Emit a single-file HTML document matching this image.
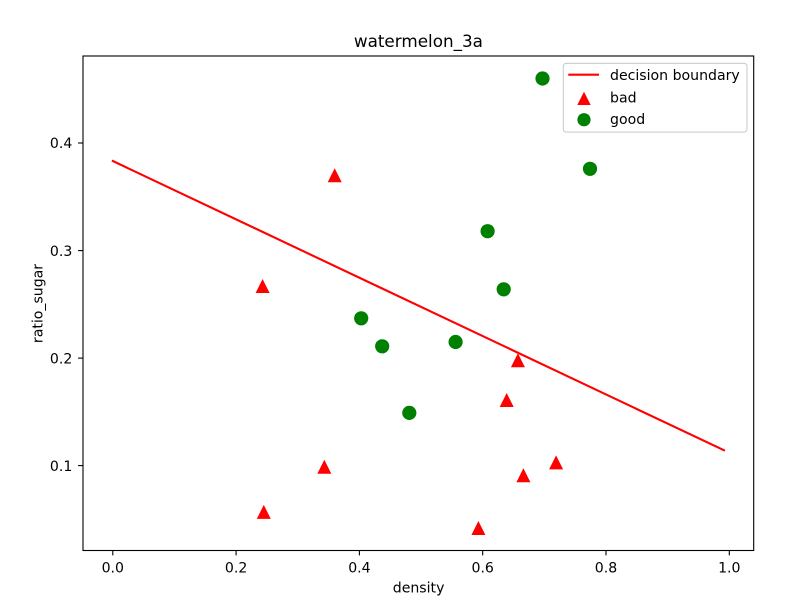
<!DOCTYPE html>
<html>
<head>
<meta charset="utf-8">
<style>
html,body{margin:0;padding:0;background:#fff;}
svg{display:block;}
text{font-family:"DejaVu Sans","Liberation Sans",sans-serif;fill:#000;}
</style>
</head>
<body>
<svg width="798" height="611" viewBox="0 0 798 611" xmlns="http://www.w3.org/2000/svg">
<rect x="0" y="0" width="798" height="611" fill="#fff"/>
<!-- title -->
<text x="418.4" y="47" font-size="16.8" text-anchor="middle">watermelon_3a</text>

<!-- decision boundary -->
<line x1="112.8" y1="161.0" x2="724" y2="450.3" stroke="#ff0000" stroke-width="2.08" stroke-linecap="square"/>

<!-- bad (triangles) -->
<g fill="#ff0000">
<path d="M523.4,468.3 L516.4,482.3 L530.4,482.3 Z"/>
<path d="M262.6,279.0 L255.6,293.0 L269.6,293.0 Z"/>
<path d="M263.8,504.9 L256.8,518.9 L270.8,518.9 Z"/>
<path d="M324.3,459.7 L317.3,473.7 L331.3,473.7 Z"/>
<path d="M506.7,393.0 L499.7,407.0 L513.7,407.0 Z"/>
<path d="M517.9,353.2 L510.9,367.2 L524.9,367.2 Z"/>
<path d="M334.7,168.3 L327.7,182.3 L341.7,182.3 Z"/>
<path d="M478.4,521.0 L471.4,535.0 L485.4,535.0 Z"/>
<path d="M556.1,455.4 L549.1,469.4 L563.1,469.4 Z"/>
</g>

<!-- good (circles) -->
<g fill="#008000">
<circle cx="542.5" cy="78.5" r="7.1"/>
<circle cx="590.0" cy="168.8" r="7.1"/>
<circle cx="503.7" cy="289.3" r="7.1"/>
<circle cx="487.6" cy="231.2" r="7.1"/>
<circle cx="455.6" cy="342.0" r="7.1"/>
<circle cx="361.2" cy="318.3" r="7.1"/>
<circle cx="409.3" cy="412.9" r="7.1"/>
<circle cx="382.2" cy="346.3" r="7.1"/>
</g>

<!-- axes frame -->
<rect x="83" y="56" width="670.7" height="494.5" fill="none" stroke="#000" stroke-width="1.1"/>

<!-- x ticks -->
<g stroke="#000" stroke-width="1.1">
<line x1="112.8" y1="550.5" x2="112.8" y2="555.4"/>
<line x1="236.1" y1="550.5" x2="236.1" y2="555.4"/>
<line x1="359.4" y1="550.5" x2="359.4" y2="555.4"/>
<line x1="482.7" y1="550.5" x2="482.7" y2="555.4"/>
<line x1="606.0" y1="550.5" x2="606.0" y2="555.4"/>
<line x1="729.3" y1="550.5" x2="729.3" y2="555.4"/>
</g>
<g font-size="14.1" text-anchor="middle">
<text x="112.8" y="572.7">0.0</text>
<text x="236.1" y="572.7">0.2</text>
<text x="359.4" y="572.7">0.4</text>
<text x="482.7" y="572.7">0.6</text>
<text x="606.0" y="572.7">0.8</text>
<text x="729.3" y="572.7">1.0</text>
</g>
<text x="418.6" y="592.7" font-size="14.1" text-anchor="middle">density</text>

<!-- y ticks -->
<g stroke="#000" stroke-width="1.1">
<line x1="78.1" y1="465.6" x2="83" y2="465.6"/>
<line x1="78.1" y1="358.1" x2="83" y2="358.1"/>
<line x1="78.1" y1="250.6" x2="83" y2="250.6"/>
<line x1="78.1" y1="143.0" x2="83" y2="143.0"/>
</g>
<g font-size="14.1" text-anchor="end">
<text x="72.3" y="470.8">0.1</text>
<text x="72.3" y="363.3">0.2</text>
<text x="72.3" y="255.8">0.3</text>
<text x="72.3" y="148.2">0.4</text>
</g>
<text transform="translate(42.5,303.5) rotate(-90)" font-size="14.1" text-anchor="middle">ratio_sugar</text>

<!-- legend -->
<rect x="563.3" y="63.3" width="183.7" height="68.8" rx="3" ry="3" fill="#fff" fill-opacity="0.8" stroke="#cccccc" stroke-width="1.1"/>
<line x1="568.3" y1="74.7" x2="599" y2="74.7" stroke="#ff0000" stroke-width="2.08"/>
<path d="M584,91.7 L577.3,105 L590.7,105 Z" fill="#ff0000"/>
<circle cx="584" cy="119.7" r="6.6" fill="#008000"/>
<g font-size="14.1">
<text x="610" y="80">decision boundary</text>
<text x="610" y="102.3">bad</text>
<text x="610" y="124">good</text>
</g>
</svg>
</body>
</html>
